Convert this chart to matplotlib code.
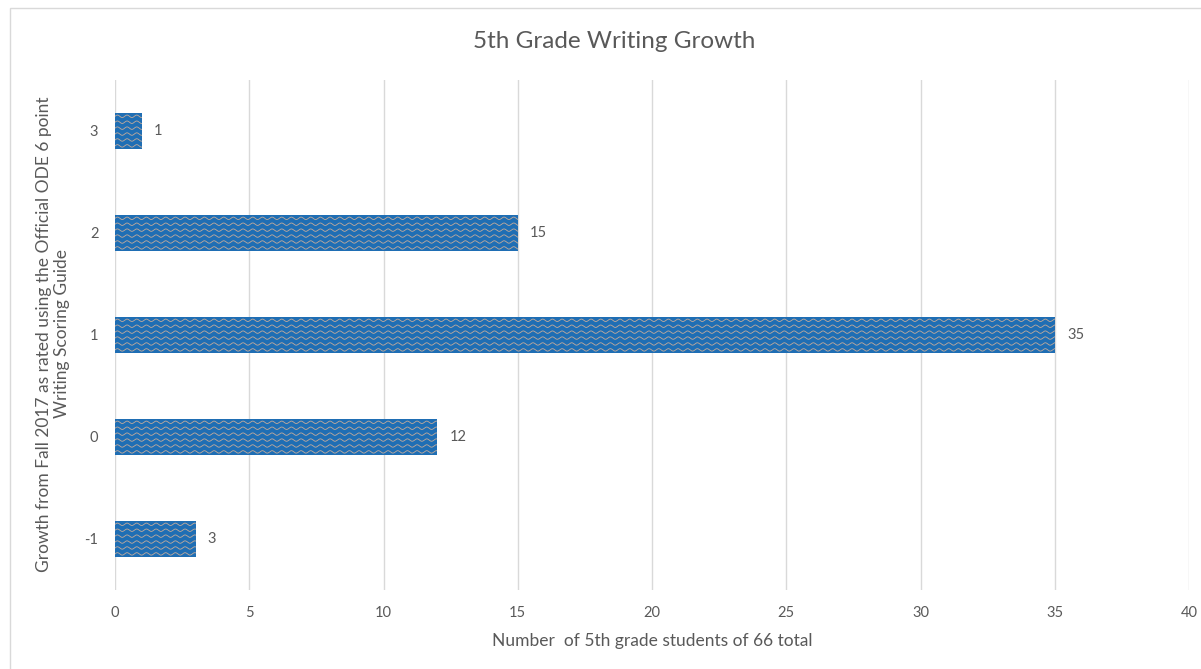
import numpy as np
import matplotlib
matplotlib.use("Agg")
import matplotlib.pyplot as plt
from matplotlib.patches import Rectangle

plt.rcParams['font.family'] = ['Lato', 'DejaVu Sans']

# growth levels (bottom to top) and student counts
growth = ['-1', '0', '1', '2', '3']
students = [3, 12, 35, 15, 1]
x_ticks = [0, 5, 10, 15, 20, 25, 30, 35, 40]

title = '5th Grade Writing Growth'
x_title = 'Number  of 5th grade students of 66 total'
y_title = 'Growth from Fall 2017 as rated using the Official ODE 6 point\nWriting Scoring Guide'

bar_blue = '#1f6eb4'
wave_col = '#c3aa9a'
grey_txt = '#595959'

fig = plt.figure(figsize=(12.01, 6.69), dpi=100)
W, H = 1201, 669

# chart frame
fig.patches.append(Rectangle((10 / W, -0.01), 1.2, 1 - 8 / H + 0.01,
                             transform=fig.transFigure, fill=False,
                             edgecolor='#d9d9d9', lw=1.0))

ax = fig.add_axes([115 / W, 1 - 590 / H, (1189 - 115) / W, (590 - 80) / H])

ypos = np.arange(len(growth))
bh = 0.35
bars = ax.barh(ypos, students, height=bh, color=bar_blue, zorder=2)

# wavy fill pattern on top of each bar, clipped to the bar shape
period = 0.36
amp = 0.012
row_gap = 0.058
for b in bars:
    x0, y0 = b.get_x(), b.get_y()
    w, h = b.get_width(), b.get_height()
    xs = np.linspace(x0, x0 + w, max(int(w * 60), 20))
    for k in np.arange(y0 + row_gap / 2, y0 + h, row_gap):
        ln, = ax.plot(xs, k + amp * np.sin(2 * np.pi * (xs - x0) / period),
                      color=wave_col, lw=0.6, zorder=3)
        ln.set_clip_path(b)

for yy, v in zip(ypos, students):
    ax.text(v + 0.46, yy, str(v), va='center', ha='left',
            fontsize=10.5, color=grey_txt)

ax.set_xlim(0, 40)
ax.set_ylim(-0.5, len(growth) - 0.5)
ax.set_xticks(x_ticks)
ax.set_yticks(ypos)
ax.set_yticklabels(growth)
ax.grid(axis='x', color='#d9d9d9', lw=1.0, zorder=0)
ax.set_axisbelow(True)
for s in ax.spines.values():
    s.set_visible(False)
ax.tick_params(length=0, labelsize=10.5, colors=grey_txt)
ax.tick_params(axis='x', pad=11.5)
ax.tick_params(axis='y', pad=12)

fig.text(614 / W, 1 - 42 / H, title, ha='center', va='center',
         fontsize=17.5, color=grey_txt)
fig.text(652 / W, 1 - 641 / H, x_title, ha='center', va='center',
         fontsize=12.5, color=grey_txt)
fig.text(53 / W, 1 - 334 / H, y_title, ha='center', va='center',
         rotation=90, fontsize=12.5, color=grey_txt, linespacing=1.15)

fig.savefig('out.png', dpi=100)
